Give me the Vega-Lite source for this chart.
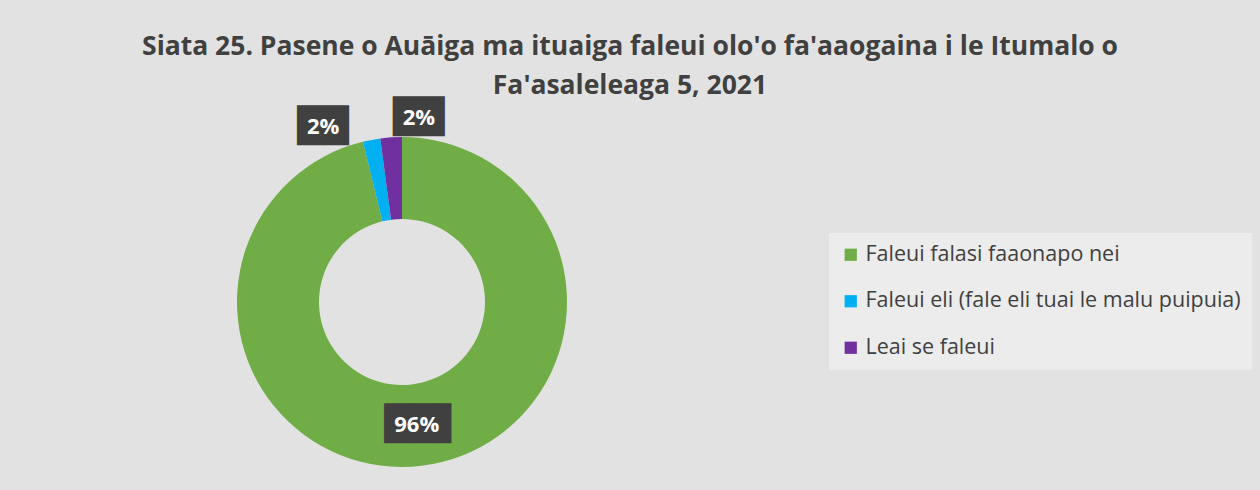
{
  "$schema": "https://vega.github.io/schema/vega-lite/v6.json",
  "width": 804,
  "height": 376,
  "autosize": {"type": "none"},
  "padding": {"left": 0, "top": 114, "right": 456, "bottom": 0},
  "background": "#e2e2e2",
  "config": {"view": {"stroke": null}},
  "title": {
    "text": ["Siata 25. Pasene o Auāiga ma ituaiga faleui olo'o fa'aaogaina i le Itumalo o", "Fa'asaleleaga 5, 2021"],
    "font": "Open Sans",
    "fontSize": 26.5,
    "fontWeight": "bold",
    "color": "#404040",
    "anchor": "middle",
    "frame": "group",
    "dx": 228,
    "offset": 2,
    "lineHeight": 39
  },
  "data": {
    "values": [
      {"cat": "Faleui falasi faaonapo nei", "value": 96.2, "label": "96%", "rank": 1},
      {"cat": "Faleui eli (fale eli tuai le malu puipuia)", "value": 1.7, "label": "2%", "rank": 2},
      {"cat": "Leai se faleui", "value": 2.1, "label": "2%", "rank": 3}
    ]
  },
  "encoding": {
    "theta": {"field": "value", "type": "quantitative", "stack": true},
    "order": {"field": "rank", "type": "quantitative"}
  },
  "layer": [
    {
      "mark": {"type": "arc", "outerRadius": 165, "innerRadius": 83},
      "encoding": {
        "color": {
          "field": "cat",
          "type": "nominal",
          "scale": {
            "domain": ["Faleui falasi faaonapo nei", "Faleui eli (fale eli tuai le malu puipuia)", "Leai se faleui"],
            "range": ["#70AD47", "#00B0F0", "#7030A0"]
          },
          "legend": {
            "title": null,
            "orient": "none",
            "legendX": 829,
            "legendY": 119,
            "symbolType": "square",
            "symbolSize": 150,
            "symbolStrokeWidth": 0,
            "labelFont": "Open Sans",
            "labelFontSize": 21.5,
            "labelColor": "#404040",
            "labelLimit": 600,
            "labelOffset": 4,
            "rowPadding": 23.5,
            "padding": 11,
            "fillColor": "#ececec"
          }
        }
      }
    },
    {
      "mark": {"type": "text", "radius": 124, "dx": -4, "font": "DejaVu Sans", "fontSize": 33.5, "color": "#404040"},
      "encoding": {"detail": {"field": "cat"}, "text": {"condition": {"test": "datum.rank == 1", "value": "▕██▌"}, "value": ""}}
    },
    {
      "mark": {"type": "text", "radius": 124, "font": "Open Sans", "fontWeight": "bold", "fontSize": 22, "color": "white"},
      "encoding": {"detail": {"field": "cat"}, "text": {"condition": {"test": "datum.rank == 1", "field": "label"}, "value": ""}}
    },
    {
      "mark": {"type": "text", "radius": 184, "dx": -45, "dy": 6, "font": "DejaVu Sans", "fontSize": 33.5, "color": "#404040"},
      "encoding": {"detail": {"field": "cat"}, "text": {"condition": {"test": "datum.rank == 2", "value": "██"}, "value": ""}}
    },
    {
      "mark": {"type": "text", "radius": 184, "dx": -45, "dy": 6, "font": "Open Sans", "fontWeight": "bold", "fontSize": 22, "color": "white"},
      "encoding": {"detail": {"field": "cat"}, "text": {"condition": {"test": "datum.rank == 2", "field": "label"}, "value": ""}}
    },
    {
      "mark": {"type": "text", "radius": 184, "dx": 29, "dy": 0, "font": "DejaVu Sans", "fontSize": 33.5, "color": "#404040"},
      "encoding": {"detail": {"field": "cat"}, "text": {"condition": {"test": "datum.rank == 3", "value": "██"}, "value": ""}}
    },
    {
      "mark": {"type": "text", "radius": 184, "dx": 29, "dy": 0, "font": "Open Sans", "fontWeight": "bold", "fontSize": 22, "color": "white"},
      "encoding": {"detail": {"field": "cat"}, "text": {"condition": {"test": "datum.rank == 3", "field": "label"}, "value": ""}}
    }
  ]
}
